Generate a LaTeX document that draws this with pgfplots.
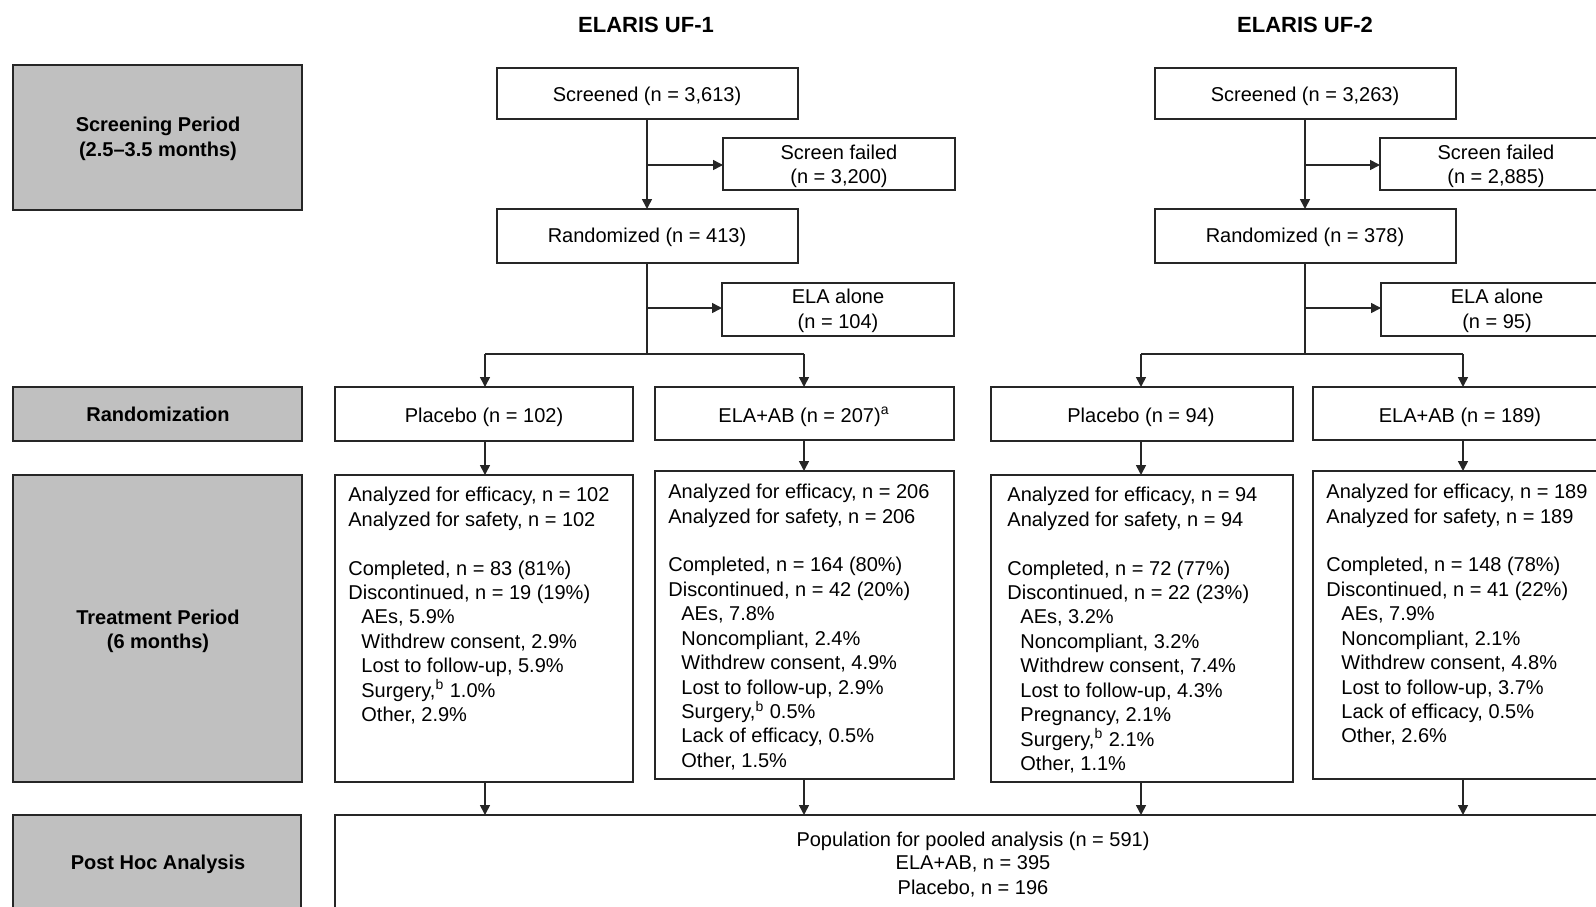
\documentclass[border=0pt]{standalone}
\usepackage{pgfplots}
\pgfplotsset{compat=1.18}
\usepackage{fontspec}
\setmainfont{Liberation Sans}
\usetikzlibrary{arrows.meta}

\definecolor{boxgray}{HTML}{C0C0C0}
\definecolor{edge}{HTML}{262626}

% one line of text in a list box: x, first line centre, line number, text
\newcommand{\tl}[4]{\node[anchor=base west,inner sep=0pt] at (axis cs:#1,{#2+7+24.43*#3}) {#4};}
% centred line: x, centre y, text
\newcommand{\cl}[3]{\node[anchor=base,inner sep=0pt] at (axis cs:#1,{#2+7}) {#3};}
\newcommand{\sfn}[1]{\textsuperscript{#1}}

\begin{document}
\begin{tikzpicture}[
  font=\fontsize{10}{12}\selectfont,
  bx/.style={draw=edge,line width=0.8pt},
  gbx/.style={draw=edge,fill=boxgray,line width=0.8pt},
  ar/.style={draw=edge,line width=0.8pt,-{Triangle[length=5pt,width=5pt]}},
  ln/.style={draw=edge,line width=0.8pt},
]
\begin{axis}[
  name=ax,
  width=798pt, height=453pt,
  scale only axis,
  xmin=0, xmax=1596,
  ymin=0, ymax=906,
  y dir=reverse,
  hide axis,
]
% titles
\node[font=\fontsize{11}{13}\selectfont\bfseries] at (axis cs:646,25) {ELARIS UF-1};
\node[font=\fontsize{11}{13}\selectfont\bfseries] at (axis cs:1305,25) {ELARIS UF-2};

% grey period boxes
\draw[gbx] (axis cs:13,65) rectangle (axis cs:302,210);
\draw[gbx] (axis cs:13,387) rectangle (axis cs:302,441);
\draw[gbx] (axis cs:13,475) rectangle (axis cs:302,782);
\draw[gbx] (axis cs:13,815) rectangle (axis cs:301,940);
\begin{scope}[font=\fontsize{10}{12}\selectfont\bfseries]
\cl{158}{124}{Screening Period}
\cl{158}{149}{(2.5--3.5 months)}
\cl{158}{414}{Randomization}
\cl{158}{617}{Treatment Period}
\cl{158}{641}{(6 months)}
\cl{158}{862}{Post Hoc Analysis}
\end{scope}

% ---------- ELARIS UF-1 ----------
\draw[bx] (axis cs:497,68) rectangle (axis cs:798,119);
\cl{647}{94}{Screened (n = 3,613)}
\draw[ar] (axis cs:647,119) -- (axis cs:647,209);
\draw[ar] (axis cs:647,165) -- (axis cs:723,165);
\draw[bx] (axis cs:723,138) rectangle (axis cs:955,190);
\cl{839}{152}{Screen failed}
\cl{839}{176}{(n = 3,200)}
\draw[bx] (axis cs:497,209) rectangle (axis cs:798,263);
\cl{647}{235}{Randomized (n = 413)}
\draw[ln] (axis cs:647,263) -- (axis cs:647,354);
\draw[ar] (axis cs:647,308) -- (axis cs:722,308);
\draw[bx] (axis cs:722,283) rectangle (axis cs:954,336);
\cl{838}{296}{ELA alone}
\draw[ln] (axis cs:485,354) -- (axis cs:804,354);
\cl{838}{321}{(n = 104)}
\draw[ar] (axis cs:485,354) -- (axis cs:485,387);
\draw[ar] (axis cs:804,354) -- (axis cs:804,387);
\draw[bx] (axis cs:335,387) rectangle (axis cs:633,441);
\cl{484}{415}{Placebo (n = 102)}
\draw[bx] (axis cs:655,387) rectangle (axis cs:954,440);
\cl{804}{415}{ELA+AB (n = 207)\sfn{a}}
\draw[ar] (axis cs:485,441) -- (axis cs:485,475);
\draw[ar] (axis cs:804,440) -- (axis cs:804,471);
\draw[bx] (axis cs:335,475) rectangle (axis cs:633,782);
\draw[bx] (axis cs:655,471) rectangle (axis cs:954,779);
\draw[ar] (axis cs:485,782) -- (axis cs:485,815);
\draw[ar] (axis cs:804,779) -- (axis cs:804,815);

\tl{348}{494.7}{0}{Analyzed for efficacy, n = 102}
\tl{348}{494.7}{1}{Analyzed for safety, n = 102}
\tl{348}{494.7}{3}{Completed, n = 83 (81\%)}
\tl{348}{494.7}{4}{Discontinued, n = 19 (19\%)}
\tl{361}{494.7}{5}{AEs, 5.9\%}
\tl{361}{494.7}{6}{Withdrew consent, 2.9\%}
\tl{361}{494.7}{7}{Lost to follow-up, 5.9\%}
\tl{361}{494.7}{8}{Surgery,\sfn{b} 1.0\%}
\tl{361}{494.7}{9}{Other, 2.9\%}

\tl{668}{491.6}{0}{Analyzed for efficacy, n = 206}
\tl{668}{491.6}{1}{Analyzed for safety, n = 206}
\tl{668}{491.6}{3}{Completed, n = 164 (80\%)}
\tl{668}{491.6}{4}{Discontinued, n = 42 (20\%)}
\tl{681}{491.6}{5}{AEs, 7.8\%}
\tl{681}{491.6}{6}{Noncompliant, 2.4\%}
\tl{681}{491.6}{7}{Withdrew consent, 4.9\%}
\tl{681}{491.6}{8}{Lost to follow-up, 2.9\%}
\tl{681}{491.6}{9}{Surgery,\sfn{b} 0.5\%}
\tl{681}{491.6}{10}{Lack of efficacy, 0.5\%}
\tl{681}{491.6}{11}{Other, 1.5\%}

% ---------- ELARIS UF-2 ----------
\draw[bx] (axis cs:1155,68) rectangle (axis cs:1456,119);
\cl{1305}{94}{Screened (n = 3,263)}
\draw[ar] (axis cs:1305,119) -- (axis cs:1305,209);
\draw[ar] (axis cs:1305,165) -- (axis cs:1380,165);
\draw[bx] (axis cs:1380,138) rectangle (axis cs:1612,190);
\cl{1496}{152}{Screen failed}
\cl{1496}{176}{(n = 2,885)}
\draw[bx] (axis cs:1155,209) rectangle (axis cs:1456,263);
\cl{1305}{235}{Randomized (n = 378)}
\draw[ln] (axis cs:1305,263) -- (axis cs:1305,354);
\draw[ar] (axis cs:1305,308) -- (axis cs:1381,308);
\draw[bx] (axis cs:1381,283) rectangle (axis cs:1613,336);
\cl{1497}{296}{ELA alone}
\cl{1497}{321}{(n = 95)}
\draw[ln] (axis cs:1141,354) -- (axis cs:1463,354);
\draw[ar] (axis cs:1141,354) -- (axis cs:1141,387);
\draw[ar] (axis cs:1463,354) -- (axis cs:1463,387);
\draw[bx] (axis cs:991,387) rectangle (axis cs:1293,441);
\cl{1141}{415}{Placebo (n = 94)}
\draw[bx] (axis cs:1313,387) rectangle (axis cs:1611,440);
\cl{1460}{415}{ELA+AB (n = 189)}
\draw[ar] (axis cs:1141,441) -- (axis cs:1141,475);
\draw[ar] (axis cs:1463,440) -- (axis cs:1463,471);
\draw[bx] (axis cs:991,475) rectangle (axis cs:1293,782);
\draw[bx] (axis cs:1313,471) rectangle (axis cs:1611,779);
\draw[ar] (axis cs:1141,782) -- (axis cs:1141,815);
\draw[ar] (axis cs:1463,779) -- (axis cs:1463,815);

\tl{1007}{494.7}{0}{Analyzed for efficacy, n = 94}
\tl{1007}{494.7}{1}{Analyzed for safety, n = 94}
\tl{1007}{494.7}{3}{Completed, n = 72 (77\%)}
\tl{1007}{494.7}{4}{Discontinued, n = 22 (23\%)}
\tl{1020}{494.7}{5}{AEs, 3.2\%}
\tl{1020}{494.7}{6}{Noncompliant, 3.2\%}
\tl{1020}{494.7}{7}{Withdrew consent, 7.4\%}
\tl{1020}{494.7}{8}{Lost to follow-up, 4.3\%}
\tl{1020}{494.7}{9}{Pregnancy, 2.1\%}
\tl{1020}{494.7}{10}{Surgery,\sfn{b} 2.1\%}
\tl{1020}{494.7}{11}{Other, 1.1\%}

\tl{1326}{491.6}{0}{Analyzed for efficacy, n = 189}
\tl{1326}{491.6}{1}{Analyzed for safety, n = 189}
\tl{1326}{491.6}{3}{Completed, n = 148 (78\%)}
\tl{1326}{491.6}{4}{Discontinued, n = 41 (22\%)}
\tl{1341}{491.6}{5}{AEs, 7.9\%}
\tl{1341}{491.6}{6}{Noncompliant, 2.1\%}
\tl{1341}{491.6}{7}{Withdrew consent, 4.8\%}
\tl{1341}{491.6}{8}{Lost to follow-up, 3.7\%}
\tl{1341}{491.6}{9}{Lack of efficacy, 0.5\%}
\tl{1341}{491.6}{10}{Other, 2.6\%}

% ---------- pooled ----------
\draw[bx] (axis cs:335,815) rectangle (axis cs:1630,940);
\cl{973}{839}{Population for pooled analysis (n = 591)}
\cl{973}{862}{ELA+AB, n = 395}
\cl{973}{887}{Placebo, n = 196}
\end{axis}
\pgfresetboundingbox
\path (ax.south west) rectangle (ax.north east);
\end{tikzpicture}
\end{document}
